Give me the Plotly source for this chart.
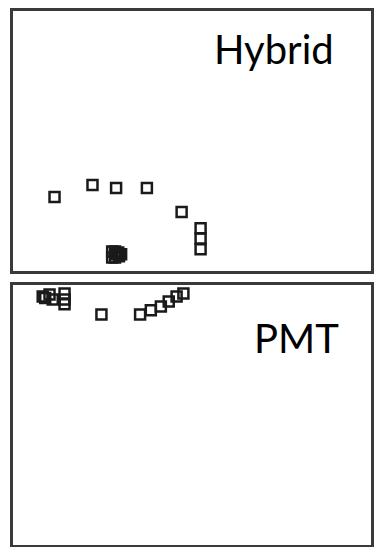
import plotly.graph_objects as go
from plotly.subplots import make_subplots

# Arbitrary 0-100 units (the reference has no ticks)
hybrid_x = [11.6, 22.2, 28.8, 37.4, 47.1, 52.4, 52.4, 52.4,
            27.7, 27.7, 28.5, 28.5, 29.4, 29.6, 28.8, 30.2]
hybrid_y = [28.6, 33.2, 32.0, 32.0, 22.8, 16.6, 12.7, 8.5,
            7.7, 5.4, 7.7, 5.4, 7.3, 5.8, 6.6, 6.6]

pmt_x = [8.3, 9.0, 10.2, 11.1, 14.4, 14.4, 14.4, 24.7, 35.5, 38.5, 41.3, 43.5, 45.7, 47.6]
pmt_y = [95.4, 94.8, 96.2, 94.3, 96.6, 94.3, 92.4, 88.5, 88.5, 90.1, 91.6, 93.5, 95.4, 96.6]

panel_labels = ["Hybrid", "PMT"]

FRAME = "#3a3a3a"
MARKER = dict(symbol="square-open", size=10, color="#1a1a1a", line=dict(width=2.5))

fig = make_subplots(rows=2, cols=1, vertical_spacing=0.0245)

fig.add_trace(go.Scatter(x=hybrid_x, y=hybrid_y, mode="markers", marker=MARKER), row=1, col=1)
fig.add_trace(go.Scatter(x=pmt_x, y=pmt_y, mode="markers", marker=MARKER), row=2, col=1)

for r in (1, 2):
    fig.update_xaxes(range=[0, 100], showticklabels=False, ticks="", showgrid=False,
                     zeroline=False, showline=True, mirror=True, linecolor=FRAME,
                     linewidth=2.5, row=r, col=1)
    fig.update_yaxes(range=[0, 100], showticklabels=False, ticks="", showgrid=False,
                     zeroline=False, showline=True, mirror=True, linecolor=FRAME,
                     linewidth=2.5, row=r, col=1)

fig.add_annotation(x=90.3, y=85.5, xref="x", yref="y", text=panel_labels[0],
                   showarrow=False, xanchor="right", yanchor="middle",
                   font=dict(family="Lato", size=40, color="black"))
fig.add_annotation(x=91.7, y=79.5, xref="x2", yref="y2", text=panel_labels[1],
                   showarrow=False, xanchor="right", yanchor="middle",
                   font=dict(family="Lato", size=40, color="black"))

fig.update_layout(
    width=376,
    height=547,
    margin=dict(l=13, r=2, t=11, b=2),
    plot_bgcolor="white",
    paper_bgcolor="white",
    showlegend=False,
)

# drop the default 8px body margin so the figure fills the window
fig.write_html("out.html", config={"displayModeBar": False},
               post_script="document.body.style.margin='0';")
